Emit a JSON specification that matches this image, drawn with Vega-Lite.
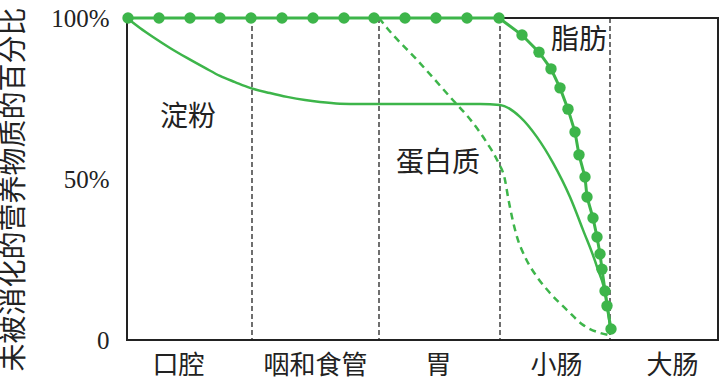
{
  "$schema": "https://vega.github.io/schema/vega-lite/v6.json",
  "width": 591,
  "height": 322,
  "autosize": {"type": "none"},
  "padding": {"left": 127, "top": 18, "right": 6, "bottom": 52},
  "background": "white",
  "config": {
    "view": {"stroke": "#222", "strokeWidth": 2},
    "font": "Noto Sans CJK SC"
  },
  "datasets": {
    "dividers": [{"pos": 125}, {"pos": 252}, {"pos": 373}, {"pos": 483}],
    "starch": [
      {"pos": 0, "pct": 100}, {"pos": 13, "pct": 96.9}, {"pos": 26, "pct": 94.1}, {"pos": 43, "pct": 90.7},
      {"pos": 60, "pct": 87.6}, {"pos": 78, "pct": 84.5}, {"pos": 93, "pct": 82.0}, {"pos": 108, "pct": 80.1},
      {"pos": 123, "pct": 78.3}, {"pos": 143, "pct": 76.7}, {"pos": 160, "pct": 75.5}, {"pos": 178, "pct": 74.5},
      {"pos": 193, "pct": 73.9}, {"pos": 213, "pct": 73.4}, {"pos": 233, "pct": 73.3}, {"pos": 313, "pct": 73.3},
      {"pos": 353, "pct": 73.3}, {"pos": 373, "pct": 73.0}, {"pos": 393, "pct": 69.3}, {"pos": 410, "pct": 63.0},
      {"pos": 426, "pct": 55.0}, {"pos": 443, "pct": 44.4}, {"pos": 456, "pct": 34.2}, {"pos": 470, "pct": 22.7},
      {"pos": 480, "pct": 11.5}, {"pos": 483, "pct": 4.0}
    ],
    "protein": [
      {"pos": 252, "pct": 100}, {"pos": 260, "pct": 96.9}, {"pos": 290, "pct": 87.0}, {"pos": 323, "pct": 75.5},
      {"pos": 346, "pct": 67.4}, {"pos": 360, "pct": 61.2}, {"pos": 371, "pct": 55.3}, {"pos": 378, "pct": 49.7},
      {"pos": 381, "pct": 44.4}, {"pos": 385, "pct": 38.2}, {"pos": 390, "pct": 32.0}, {"pos": 398, "pct": 25.8},
      {"pos": 410, "pct": 19.6}, {"pos": 423, "pct": 14.6}, {"pos": 440, "pct": 9.3}, {"pos": 456, "pct": 4.7},
      {"pos": 473, "pct": 2.2}, {"pos": 481, "pct": 1.6}
    ],
    "fat": [
      {"pos": 1, "pct": 100}, {"pos": 32, "pct": 100}, {"pos": 63, "pct": 100}, {"pos": 93, "pct": 100},
      {"pos": 124, "pct": 100}, {"pos": 155, "pct": 100}, {"pos": 186, "pct": 100}, {"pos": 217, "pct": 100},
      {"pos": 247, "pct": 100}, {"pos": 278, "pct": 100}, {"pos": 309, "pct": 100}, {"pos": 340, "pct": 100},
      {"pos": 372, "pct": 100}, {"pos": 395, "pct": 94.7}, {"pos": 412, "pct": 89.4}, {"pos": 424, "pct": 84.2},
      {"pos": 433, "pct": 78.3}, {"pos": 441, "pct": 71.7}, {"pos": 448, "pct": 64.6}, {"pos": 452, "pct": 57.5},
      {"pos": 458, "pct": 50.6}, {"pos": 460, "pct": 44.4}, {"pos": 466, "pct": 37.9}, {"pos": 470, "pct": 32.0},
      {"pos": 473, "pct": 26.7}, {"pos": 475, "pct": 22.0}, {"pos": 478, "pct": 15.2}, {"pos": 480, "pct": 10.6},
      {"pos": 484, "pct": 3.4}
    ],
    "labels": [
      {"pos": 61, "pct": 68.9, "name": "淀粉"},
      {"pos": 311, "pct": 54.7, "name": "蛋白质"},
      {"pos": 452, "pct": 92.9, "name": "脂肪"}
    ]
  },
  "layer": [
    {
      "data": {"name": "dividers"},
      "mark": {"type": "rule", "color": "#222", "strokeWidth": 1.3, "strokeDash": [5, 3]},
      "encoding": {
        "x": {
          "field": "pos", "type": "quantitative",
          "scale": {"domain": [0, 591], "nice": false, "zero": false},
          "axis": {
            "values": [51, 188, 311, 429, 545],
            "labelExpr": "datum.value == 51 ? '口腔' : datum.value == 188 ? '咽和食管' : datum.value == 311 ? '胃' : datum.value == 429 ? '小肠' : '大肠'",
            "ticks": false, "domain": false, "grid": false, "title": null,
            "labelFont": "Noto Sans CJK SC", "labelFontSize": 26, "labelColor": "#222",
            "labelPadding": 12, "labelOverlap": false, "labelFlush": false, "labelBound": false
          }
        }
      }
    },
    {
      "data": {"name": "starch"},
      "mark": {"type": "line", "color": "#3db54a", "strokeWidth": 2.5, "interpolate": "monotone"},
      "encoding": {
        "x": {"field": "pos", "type": "quantitative"},
        "y": {
          "field": "pct", "type": "quantitative",
          "scale": {"domain": [0, 100], "nice": false},
          "axis": {
            "values": [0, 50, 100],
            "labelExpr": "datum.value == 0 ? '0' : datum.value + '%'",
            "ticks": false, "domain": false, "grid": false,
            "labelFont": "Liberation Serif", "labelFontSize": 25, "labelColor": "#222", "labelPadding": 18,
            "title": "未被消化的营养物质的百分比",
            "titleFont": "Noto Sans CJK SC", "titleFontSize": 28, "titleFontWeight": "normal", "titleColor": "#222",
            "titleAngle": -90, "titleX": -113, "titleY": 171, "titleAlign": "center", "titleBaseline": "middle"
          }
        }
      }
    },
    {
      "data": {"name": "protein"},
      "mark": {"type": "line", "color": "#3db54a", "strokeWidth": 2.5, "strokeDash": [7, 5], "interpolate": "monotone"},
      "encoding": {
        "x": {"field": "pos", "type": "quantitative"},
        "y": {"field": "pct", "type": "quantitative"}
      }
    },
    {
      "data": {"name": "fat"},
      "mark": {"type": "line", "color": "#3db54a", "strokeWidth": 3},
      "encoding": {
        "x": {"field": "pos", "type": "quantitative"},
        "y": {"field": "pct", "type": "quantitative"}
      }
    },
    {
      "data": {"name": "fat"},
      "mark": {"type": "circle", "color": "#3db54a", "size": 130, "opacity": 1},
      "encoding": {
        "x": {"field": "pos", "type": "quantitative"},
        "y": {"field": "pct", "type": "quantitative"}
      }
    },
    {
      "data": {"name": "labels"},
      "mark": {"type": "text", "fontSize": 28, "color": "#222", "align": "center", "baseline": "middle", "font": "Noto Sans CJK SC"},
      "encoding": {
        "x": {"field": "pos", "type": "quantitative"},
        "y": {"field": "pct", "type": "quantitative"},
        "text": {"field": "name"}
      }
    }
  ]
}
